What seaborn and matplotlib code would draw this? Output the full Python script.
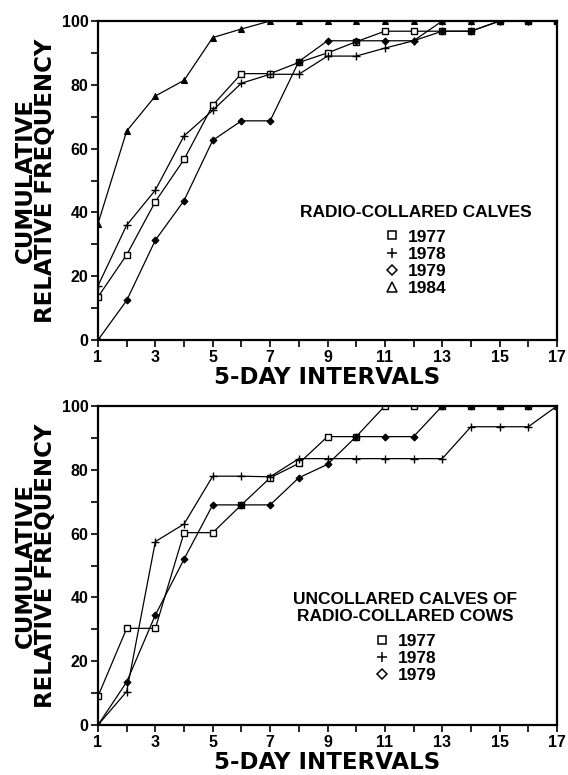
import matplotlib
matplotlib.use("Agg")
import matplotlib.pyplot as plt
from matplotlib.lines import Line2D
from matplotlib.ticker import FixedLocator
import seaborn as sns
import pandas as pd

sns.set_theme(style="white")
plt.rcParams['font.family'] = ['Liberation Sans', 'DejaVu Sans']
plt.rcParams['text.color'] = 'black'
plt.rcParams['axes.labelcolor'] = 'black'
plt.rcParams['xtick.color'] = 'black'
plt.rcParams['ytick.color'] = 'black'

intervals = list(range(1, 18))
x_major = [1, 3, 5, 7, 9, 11, 13, 15, 17]
x_minor = [2, 4, 6, 8, 10, 12, 14, 16]
y_major = [0, 20, 40, 60, 80, 100]
y_minor = [10, 30, 50, 70, 90]

# Top panel: radio-collared calves
top_1977 = [13.5, 26.7, 43.4, 56.6, 73.6, 83.5, 83.5, 87.0, 90.0, 93.5, 96.8, 96.8, 96.8, 96.8, 100, 100, 100]
top_1978 = [17.0, 36.0, 47.0, 64.0, 72.0, 80.5, 83.3, 83.3, 89.0, 89.0, 91.5, 93.8, 100, 100, 100, 100, 100]
top_1979 = [0.0, 12.4, 31.3, 43.7, 62.6, 68.7, 68.7, 87.3, 93.8, 93.8, 93.8, 93.8, 96.8, 96.8, 100, 100, 100]
top_1984 = [36.5, 65.5, 76.5, 81.4, 94.8, 97.5, 100, 100, 100, 100, 100, 100, 100, 100, 100, 100, 100]

# Bottom panel: uncollared calves of radio-collared cows
bot_1977 = [9.0, 30.3, 30.3, 60.3, 60.3, 69.0, 77.5, 82.0, 90.4, 90.4, 100, 100, 100, 100, 100, 100, 100]
bot_1978 = [0.0, 10.5, 57.5, 63.0, 78.0, 78.0, 77.8, 83.5, 83.5, 83.5, 83.5, 83.5, 83.5, 93.5, 93.5, 93.5, 100]
bot_1979 = [0.0, 13.5, 34.5, 52.0, 69.0, 69.0, 69.0, 77.5, 81.7, 90.4, 90.4, 90.4, 100, 100, 100, 100, 100]

top_title = "RADIO-COLLARED CALVES"
bot_title = "UNCOLLARED CALVES OF\nRADIO-COLLARED COWS"
x_label = "5-DAY INTERVALS"
y_label = "CUMULATIVE\nRELATIVE FREQUENCY"

marker_style = {
    "1977": dict(marker="s", ms=4.5, mfc="white", mec="black", mew=1.0),
    "1978": dict(marker="+", ms=6, mec="black", mew=1.0),
    "1979": dict(marker="D", ms=3.5, mfc="black", mec="black", mew=0.8),
    "1984": dict(marker="^", ms=4.5, mfc="black", mec="black", mew=0.8),
}
legend_style = {
    "1977": dict(marker="s", ms=6, mfc="white", mec="black", mew=1.1),
    "1978": dict(marker="+", ms=7, mec="black", mew=1.1),
    "1979": dict(marker="D", ms=5.5, mfc="white", mec="black", mew=1.1),
    "1984": dict(marker="^", ms=6.5, mfc="white", mec="black", mew=1.1),
}

W, H = 568, 775
fig = plt.figure(figsize=(W / 100, H / 100), dpi=100)
left = 98 / W
width = (557 - 98) / W
ax_top = fig.add_axes([left, 1 - 340 / H, width, (340 - 21) / H])
ax_bot = fig.add_axes([left, 1 - 725 / H, width, (725 - 406) / H])


def draw(ax, series, title, anchor):
    for year, vals in series.items():
        df = pd.DataFrame({"interval": intervals, "freq": vals})
        sns.lineplot(data=df, x="interval", y="freq", ax=ax, color="black",
                     linewidth=0.9, legend=False, **marker_style[year])
    ax.set_xlim(1, 17)
    ax.set_ylim(0, 100)
    ax.xaxis.set_major_locator(FixedLocator(x_major))
    ax.xaxis.set_minor_locator(FixedLocator(x_minor))
    ax.yaxis.set_major_locator(FixedLocator(y_major))
    ax.yaxis.set_minor_locator(FixedLocator(y_minor))
    ax.tick_params(which="both", direction="out", length=5, width=1.2,
                   color="black", bottom=True, left=True, pad=2)
    for lab in ax.get_xticklabels() + ax.get_yticklabels():
        lab.set_fontsize(11.5)
        lab.set_fontweight("bold")
        lab.set_color("black")
    for sp in ax.spines.values():
        sp.set_visible(True)
        sp.set_color("black")
        sp.set_linewidth(1.6)
    ax.set_xlabel(x_label, fontsize=16.5, fontweight="bold", family="DejaVu Sans",
                  color="black", labelpad=1)
    ax.set_ylabel(y_label, fontsize=16.5, fontweight="bold", family="DejaVu Sans",
                  color="black", labelpad=3, linespacing=0.85)
    handles = [Line2D([], [], linestyle="none", color="black", **legend_style[y])
               for y in series]
    leg = ax.legend(handles, list(series.keys()), title=title, frameon=False,
                    loc="upper center", bbox_to_anchor=anchor,
                    bbox_transform=fig.transFigure, borderpad=0,
                    handlelength=0.8, handletextpad=0.5, labelspacing=0.12,
                    labelcolor="black",
                    prop=dict(family="Liberation Sans", weight="bold", size=12.5),
                    title_fontproperties=dict(family="Liberation Sans", weight="bold", size=12.5))
    leg.get_title().set_multialignment("center")
    leg.get_title().set_color("black")
    leg._legend_box.sep = 7


draw(ax_top, {"1977": top_1977, "1978": top_1978, "1979": top_1979, "1984": top_1984},
     top_title, (416 / W, 1 - 196 / H))
draw(ax_bot, {"1977": bot_1977, "1978": bot_1978, "1979": bot_1979},
     bot_title, (405.5 / W, 1 - 583 / H))

fig.savefig("out.png", dpi=100, facecolor="white")
